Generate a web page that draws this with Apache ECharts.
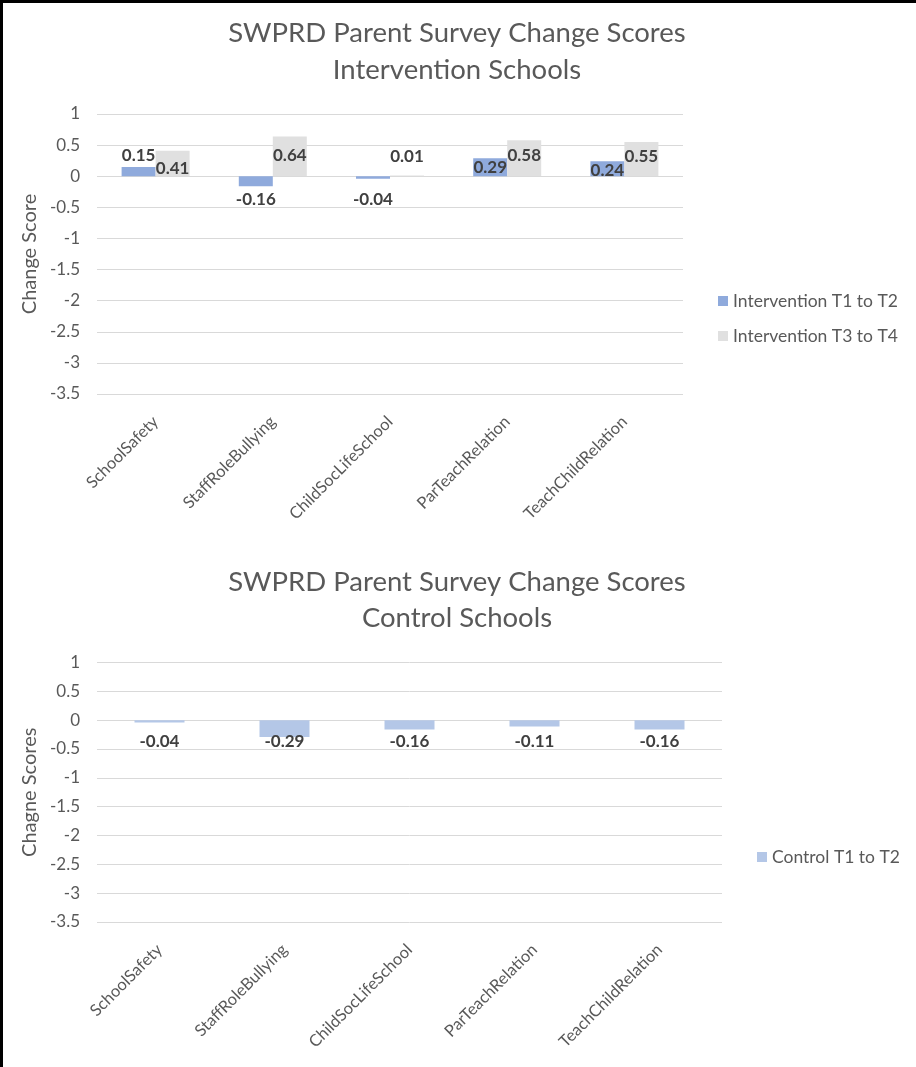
<!DOCTYPE html>
<html>
<head>
<meta charset="utf-8">
<script src="https://cdn.jsdelivr.net/npm/echarts@6/dist/echarts.min.js"></script>
<style>
  html, body { margin: 0; padding: 0; background: #fff; }
  #chart { width: 916px; height: 1067px; }
</style>
</head>
<body>
<div id="chart"></div>
<script>
// Survey measures (shared by both panels)
const categories = ['SchoolSafety', 'StaffRoleBullying', 'ChildSocLifeSchool', 'ParTeachRelation', 'TeachChildRelation'];

// Intervention schools change scores
const interventionT1T2 = [0.15, -0.16, -0.04, 0.29, 0.24];
const interventionT3T4 = [0.41, 0.64, 0.01, 0.58, 0.55];

// Control schools change scores
const controlT1T2 = [-0.04, -0.29, -0.16, -0.11, -0.16];

// Value axis ticks (both panels)
const axisMin = -3.5, axisMax = 1, axisStep = 0.5;

// Label offsets from the bar base (px), per bar
const liftT1T2 = [12, 14, 14, 'top', 'top'];
const liftT3T4 = [-1, 12, 11, 'top6', 'top6'];
const liftControl = [12, 12, 12, 12, 12];

const textGrey = '#595959';
const labelGrey = '#404040';
const fontFamily = 'Lato, "Open Sans", sans-serif';

function placeLabel(v, lift) {
  // positive bars grow up from the base, negative ones down
  if (lift === 'top') return { position: 'insideTop', distance: 0 };
  if (lift === 'top6') return { position: 'insideTop', distance: 6 };
  return { position: v >= 0 ? 'insideBottom' : 'insideTop', distance: lift };
}

function barData(values, lifts) {
  return values.map((v, i) => ({ value: v, label: placeLabel(v, lifts[i]) }));
}

const dataLabel = {
  show: true,
  color: labelGrey,
  fontWeight: 'bold',
  fontSize: 17,
  lineHeight: 18,
  fontFamily: fontFamily,
  formatter: p => p.value.toFixed(2)
};

function valueAxis(gridIndex, name) {
  return {
    type: 'value', gridIndex: gridIndex,
    min: axisMin, max: axisMax, interval: axisStep,
    name: name, nameLocation: 'middle', nameGap: 55, nameRotate: 90,
    nameTextStyle: { color: textGrey, fontSize: 20, fontFamily: fontFamily },
    axisLine: { show: false }, axisTick: { show: false },
    axisLabel: { color: textGrey, fontSize: 17, margin: 17, fontFamily: fontFamily },
    splitLine: { lineStyle: { color: '#D9D9D9', width: 1 } }
  };
}

function categoryAxis(gridIndex) {
  return {
    type: 'category', gridIndex: gridIndex, data: categories,
    axisLine: { show: false, onZero: false }, axisTick: { show: false },
    axisLabel: { color: textGrey, fontSize: 16.5, rotate: 45, margin: 25, interval: 0, fontFamily: fontFamily }
  };
}

const chart = echarts.init(document.getElementById('chart'), null, { renderer: 'canvas' });

chart.setOption({
  backgroundColor: '#ffffff',
  animation: false,
  textStyle: { fontFamily: fontFamily },
  title: [
    {
      text: 'SWPRD Parent Survey Change Scores\nIntervention Schools',
      left: 452, top: 10, textAlign: 'center',
      textStyle: { color: textGrey, fontSize: 27.5, fontWeight: 'normal', lineHeight: 37, fontFamily: fontFamily }
    },
    {
      text: 'SWPRD Parent Survey Change Scores\nControl Schools',
      left: 452, top: 559, textAlign: 'center',
      textStyle: { color: textGrey, fontSize: 27.5, fontWeight: 'normal', lineHeight: 36, fontFamily: fontFamily }
    }
  ],
  legend: [
    {
      data: ['Intervention T1 to T2', 'Intervention T3 to T4'],
      orient: 'vertical', left: 713, top: 287, itemGap: 17,
      itemWidth: 10, itemHeight: 10, icon: 'rect',
      textStyle: { color: textGrey, fontSize: 17.5, fontFamily: fontFamily }
    },
    {
      data: ['Control T1 to T2'],
      orient: 'vertical', left: 752, top: 843,
      itemWidth: 10, itemHeight: 10, icon: 'rect',
      textStyle: { color: textGrey, fontSize: 17.5, fontFamily: fontFamily }
    }
  ],
  grid: [
    { left: 97, right: 233, top: 114, height: 280 },
    { left: 97, right: 194, top: 662.5, height: 259.5 }
  ],
  xAxis: [categoryAxis(0), categoryAxis(1)],
  yAxis: [valueAxis(0, 'Change Score'), valueAxis(1, 'Chagne Scores')],
  series: [
    {
      name: 'Intervention T1 to T2', type: 'bar', xAxisIndex: 0, yAxisIndex: 0,
      barWidth: 34, barGap: '0%',
      itemStyle: { color: '#8FAADC' },
      label: dataLabel,
      data: barData(interventionT1T2, liftT1T2)
    },
    {
      name: 'Intervention T3 to T4', type: 'bar', xAxisIndex: 0, yAxisIndex: 0,
      barWidth: 34, barGap: '0%',
      itemStyle: { color: '#E0E0E0' },
      label: dataLabel,
      data: barData(interventionT3T4, liftT3T4)
    },
    {
      name: 'Control T1 to T2', type: 'bar', xAxisIndex: 1, yAxisIndex: 1,
      barWidth: 50,
      itemStyle: { color: '#B4C7E7' },
      label: dataLabel,
      data: barData(controlT1T2, liftControl)
    }
  ],
  graphic: [
    // frame edges along the left and top
    { type: 'rect', left: 0, top: 0, shape: { width: 3, height: 1067 }, style: { fill: '#000' }, silent: true },
    { type: 'rect', left: 0, top: 0, shape: { width: 916, height: 3 }, style: { fill: '#000' }, silent: true }
  ]
});
</script>
</body>
</html>
